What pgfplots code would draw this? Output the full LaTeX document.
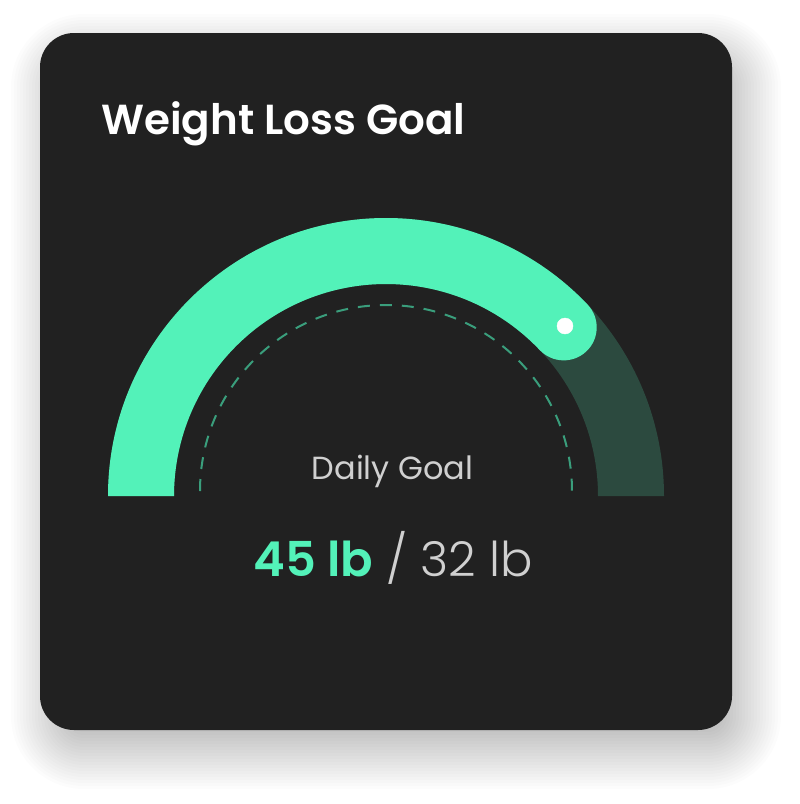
\documentclass[border=0pt]{standalone}
\usepackage{pgfplots}
\pgfplotsset{compat=1.18}
\usepackage{fontspec}
\setmainfont{Poppins}
\IfFontExistsTF{Poppins SemiBold}{\newfontfamily\semib{Poppins SemiBold}}{\newcommand\semib{\bfseries}}
\IfFontExistsTF{Poppins Light}{\newfontfamily\light{Poppins Light}}{\newcommand\light{}}
\definecolor{cardbg}{HTML}{212121}
\definecolor{gauge}{HTML}{53F2B9}
\definecolor{track}{HTML}{2C4A3F}
\definecolor{dashc}{HTML}{3A9E7C}
\definecolor{greytxt}{HTML}{D0D0D0}
\begin{document}
\begin{tikzpicture}
\begin{axis}[
  scale only axis, width=800pt, height=804pt,
  xmin=0, xmax=800, ymin=0, ymax=804, y dir=reverse,
  hide axis]
% background
\fill[white] (axis cs:0,0) rectangle (axis cs:800,804);
% shadow (stacked translucent layers)
\pgfplotsinvokeforeach{-6,...,13}{
  \fill[black, opacity=0.011, rounded corners={34pt+3pt*#1}]
    (axis cs:{50-3*#1},{53-3*#1}) rectangle (axis cs:{742+3*#1},{750+3*#1});
}
% card
\fill[cardbg, rounded corners=34pt] (axis cs:40,33) rectangle (axis cs:732,730);
% track
\fill[track] (axis cs:108,496) arc[start angle=180, end angle=0, radius=278pt]
   -- (axis cs:598,496) arc[start angle=0, end angle=180, radius=212pt] -- cycle;
% value arc
\fill[gauge] (axis cs:108,496) arc[start angle=180, end angle=43.5, radius=278pt]
   arc[start angle=43.5, end angle=-136.5, radius=33pt]
   arc[start angle=43.5, end angle=180, radius=212pt] -- cycle;
% dashed inner arc
\draw[dashc, line width=2pt, dash pattern=on 12pt off 10pt]
   (axis cs:200,491) arc[start angle=180, end angle=0, radius=186pt];
% end dot
\addplot[only marks, mark=*, mark size=8pt, color=white, mark options={fill=white, draw=white}]
   coordinates {(565,326)};
% texts
\node[anchor=base west, inner sep=0pt, text=white, font=\semib\fontsize{42}{50}\selectfont]
   at (axis cs:101,134) {Weight Loss Goal};
\node[anchor=base, inner sep=0pt, text=greytxt, font=\fontsize{32}{38}\selectfont]
   at (axis cs:392.5,479) {Daily Goal};
\node[anchor=base, inner sep=0pt, font=\fontsize{48}{56}\selectfont]
   at (axis cs:393,576) {\textcolor{gauge}{\semib 45 lb} \textcolor{greytxt}{\light / 32 lb}};
\end{axis}
\end{tikzpicture}
\end{document}
